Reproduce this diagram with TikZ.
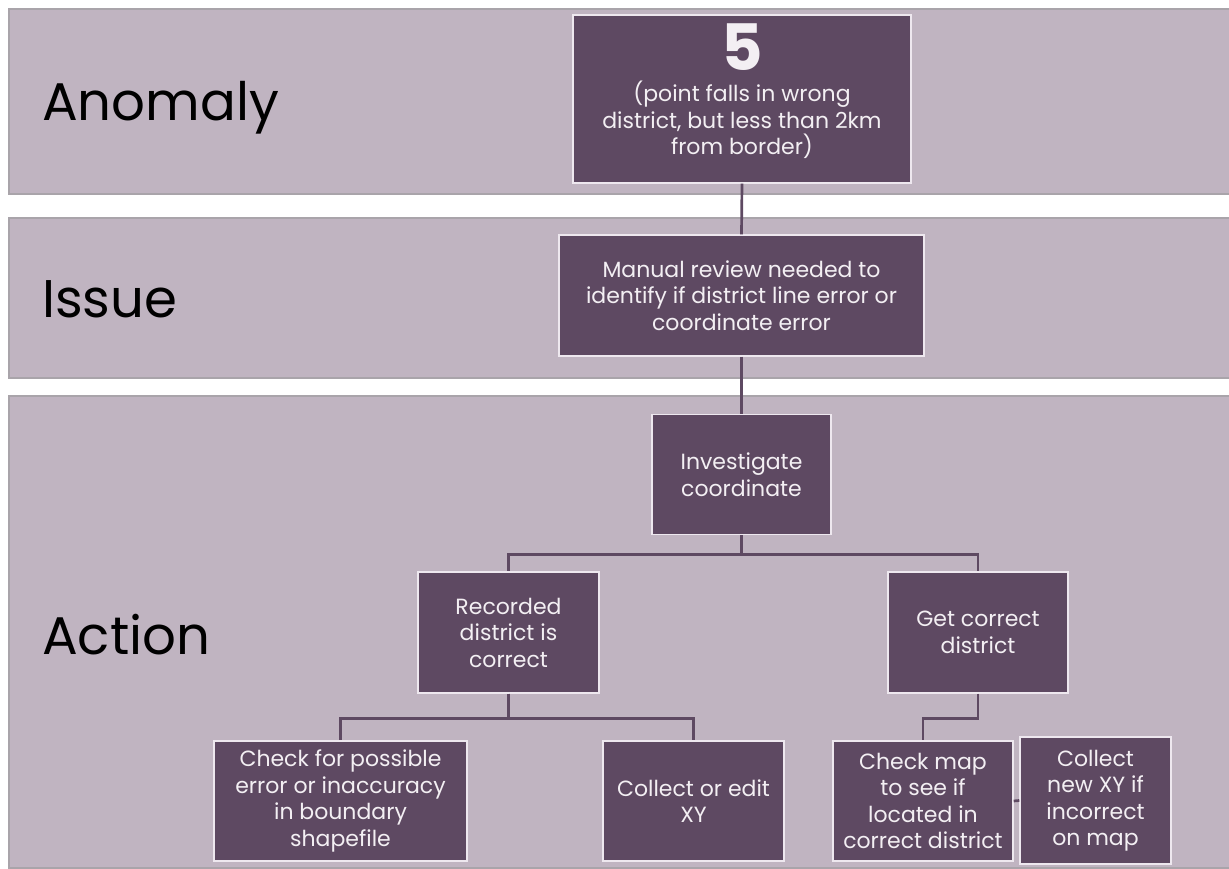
\documentclass[tikz,border=0pt]{standalone}
\usepackage{fontspec}
\setmainfont{Poppins}
\definecolor{bandfill}{HTML}{C0B4C1}
\definecolor{bandline}{HTML}{A9A4AA}
\definecolor{boxfill}{HTML}{5E4962}
\definecolor{boxline}{HTML}{EEE8EF}
\definecolor{boxtext}{HTML}{F3EFF3}
\begin{document}
\begin{tikzpicture}[x=1pt,y=-1pt,
  band/.style={draw=bandline,line width=1.2pt,fill=bandfill},
  bandlabel/.style={anchor=base west,inner sep=0pt,text=black,font=\fontsize{53}{60}\selectfont},
  stepbox/.style={draw=boxline,line width=1.4pt,fill=boxfill,inner sep=0pt},
  boxtxt/.style={text=boxtext,align=center,inner sep=0pt,font=\fontsize{22}{26.5}\selectfont},
  conn/.style={draw=boxfill,line width=2.7pt}]
\useasboundingbox (0,0) rectangle (1229,869);

% horizontal bands
\path[band] (9,9) rectangle (1240,194);
\path[band] (9,218) rectangle (1240,378);
\path[band] (9,396) rectangle (1240,868);

\node[bandlabel] (lanom) at (42,121) {Anomaly};
\node[bandlabel] (lissue) at (42,317) {Issue};
\node[bandlabel] (lact) at (42,654) {Action};

% boxes
\node[stepbox,minimum width=338,minimum height=168] (n5) at (742,99) {};
\node[boxtxt] (n5t) at (742,91) {{\fontsize{64}{64}\selectfont\bfseries 5}\\[5pt]
  (point falls in wrong\\district, but less than 2km\\from border)};

\node[stepbox,boxtxt,minimum width=365,minimum height=121] (rev) at (741.5,295.5)
  {Manual review needed to\\identify if district line error or\\coordinate error};
\node[stepbox,boxtxt,minimum width=179,minimum height=120] (inv) at (741.5,474.5)
  {Investigate\\coordinate};
\node[stepbox,boxtxt,minimum width=181,minimum height=121] (rec) at (508.5,632.5)
  {Recorded\\district is\\correct};
\node[stepbox,boxtxt,minimum width=180,minimum height=121] (get) at (978,632.5)
  {Get correct\\district};
\node[stepbox,boxtxt,minimum width=253,minimum height=120] (chk) at (340.5,801)
  {Check for possible\\error or inaccuracy\\in boundary\\shapefile};
\node[stepbox,boxtxt,minimum width=181,minimum height=120] (col) at (693.5,801)
  {Collect or edit\\XY};
\node[stepbox,boxtxt,minimum width=180,minimum height=120] (map) at (923,801)
  {Check map\\to see if\\located in\\correct district};
\node[stepbox,boxtxt,minimum width=151,minimum height=127] (new) at (1095.5,800.5)
  {Collect\\new XY if\\incorrect\\on map};

% connectors
\draw[conn] (n5.south) -- (rev.north);
\draw[conn] (rev.south) -- (inv.north);
\draw[conn] (inv.south) -- ++(0,19.5) -| (rec.north);
\draw[conn] (inv.south) -- ++(0,19.5) -| (get.north);
\draw[conn] (rec.south) -- ++(0,24.5) -| (chk.north);
\draw[conn] (rec.south) -- ++(0,24.5) -| (col.north);
\draw[conn] (get.south) -- ++(0,24.5) -| (map.north);
\draw[conn] (map.east) -- (new.west);
\end{tikzpicture}
\end{document}
